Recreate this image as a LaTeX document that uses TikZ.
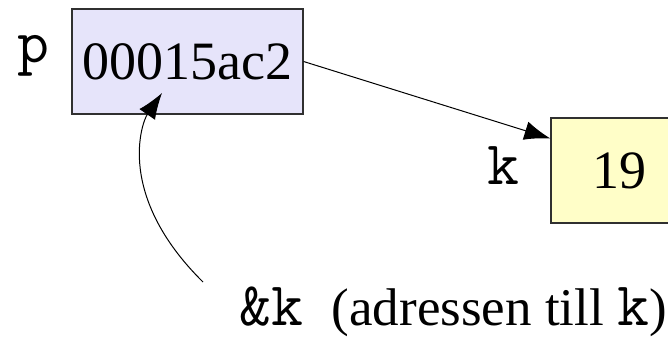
\documentclass[tikz,border=0pt]{standalone}
\usepackage{fontspec}
\setmainfont{Liberation Serif}
\usetikzlibrary{arrows.meta}
\definecolor{ptrfill}{HTML}{E6E4FA}
\definecolor{valfill}{HTML}{FFFEC8}
\definecolor{edge}{HTML}{303030}
\newcommand{\vn}[1]{{\fontsize{62}{66}\selectfont\ttfamily #1}}

\begin{document}
\begin{tikzpicture}[x=1pt,y=-1pt,
	cell/.style={draw=edge,line width=1.2pt,inner sep=0pt,
	minimum height=105pt,font=\fontsize{54}{60}\selectfont},
	var/.style={inner sep=0pt,anchor=base},
	link/.style={line width=1pt,-{Latex[length=26pt,width=19pt]}}]
\useasboundingbox (0,0) rectangle (668,340);
\clip (0,0) rectangle (668,340);
\node [cell, fill=ptrfill, minimum width=231pt] (pbox) at (187.5,61.5) {00015ac2};
\node [var] (plabel) at (33,62) {\vn{p}};
\node [cell, fill=valfill, minimum width=136pt] (kbox) at (619,170.5) {19};
\node [var] (klabel) at (503,184) {\vn{k}};
\node [inner sep=0pt, font=\fontsize{53}{60}\selectfont, anchor=base east] (addr) at (667,325)
	{\vn{\&k}\hspace{28pt}(adressen till \vn{k})};
\draw[link] (pbox.east) -- (kbox.155);
% pil fran texten till p
\coordinate (from) at (203,282);
\coordinate (tip) at (162,93);
\draw[link] (from) .. controls (115,195) and (142,122) .. (tip);
\end{tikzpicture}
\end{document}
